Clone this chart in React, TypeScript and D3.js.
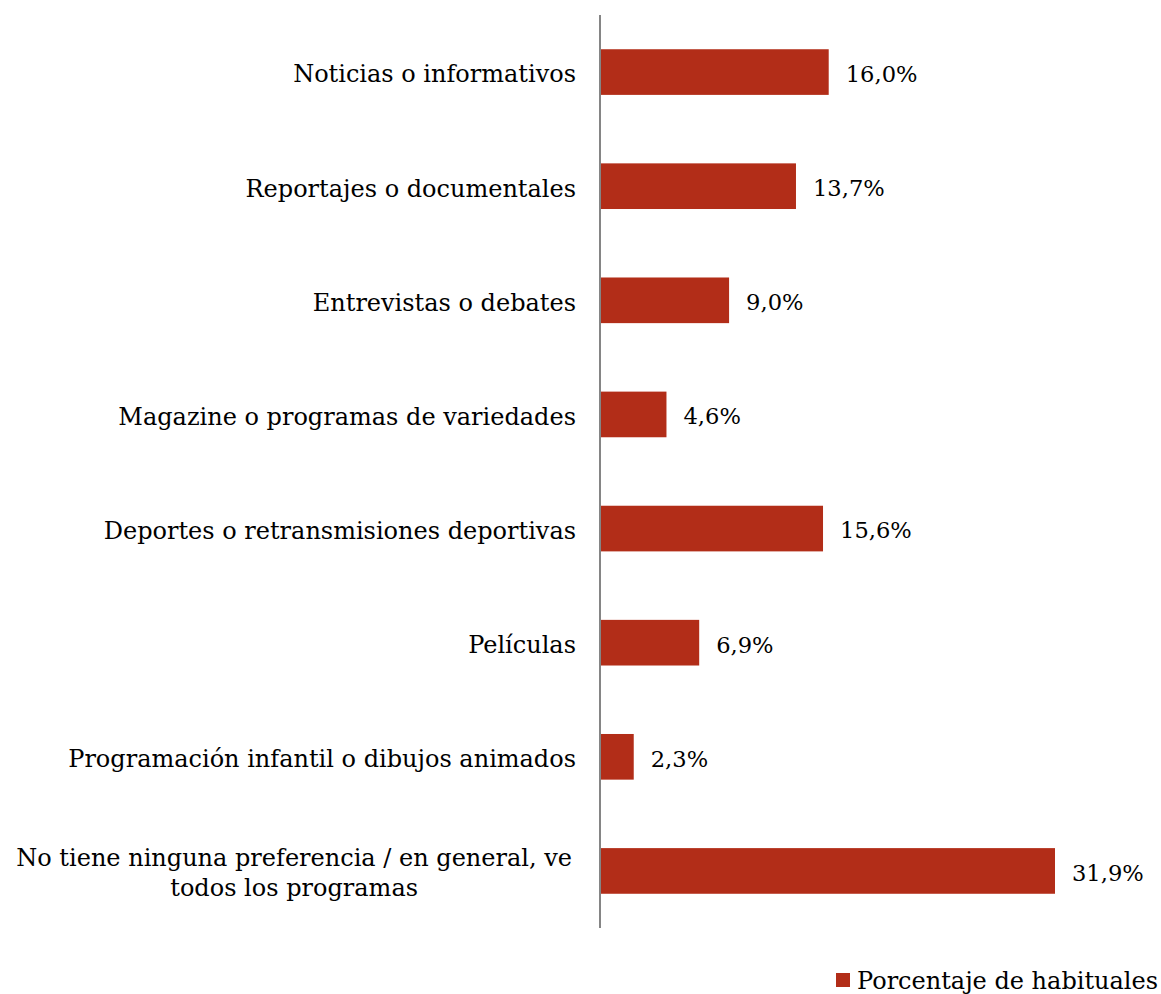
import React, { useEffect, useRef } from "react";
import * as d3 from "d3";

const categories: string[][] = [
  ["Noticias o informativos"],
  ["Reportajes o documentales"],
  ["Entrevistas o debates"],
  ["Magazine o programas de variedades"],
  ["Deportes o retransmisiones deportivas"],
  ["Películas"],
  ["Programación infantil o dibujos animados"],
  ["No tiene ninguna preferencia / en general, ve", "todos los programas"],
];
const values: number[] = [16.0, 13.7, 9.0, 4.6, 15.6, 6.9, 2.3, 31.9];
const seriesName = "Porcentaje de habituales";

const W = 1161;
const H = 994;
const FONT = "'DejaVu Serif', serif";
const FS = 24;
const FS_VAL = 22.6;
const BAR = "#B22D18";

export default function App() {
  const ref = useRef<SVGSVGElement | null>(null);
  useEffect(() => {
    const svg = d3.select(ref.current);
    svg.selectAll("*").remove();
    const idx = categories.map((_, i) => String(i));
    const y = d3.scaleBand<string>().domain(idx).range([15, 928]).paddingInner(0.6).paddingOuter(0.3);
    const x = d3.scaleLinear().domain([0, 31.9]).range([601, 1055]);

    const g = svg.append("g");
    g.selectAll("rect.bar")
      .data(values)
      .join("rect")
      .attr("class", "bar")
      .attr("x", x(0))
      .attr("y", (_, i) => y(String(i))!)
      .attr("width", (d) => x(d) - x(0))
      .attr("height", y.bandwidth())
      .attr("fill", BAR);

    g.append("line")
      .attr("x1", 600).attr("x2", 600)
      .attr("y1", 15).attr("y2", 928)
      .attr("stroke", "#858585").attr("stroke-width", 2);

    g.selectAll("text.val")
      .data(values)
      .join("text")
      .attr("class", "val")
      .attr("x", (d) => x(d) + 17)
      .attr("y", (_, i) => y(String(i))! + y.bandwidth() / 2 + 2)
      .attr("dy", "0.35em")
      .attr("font-family", FONT)
      .attr("font-size", FS_VAL)
      .attr("fill", "#000")
      .text((d) => d.toFixed(1).replace(".", ",") + "%");

    const labelRight = 576;
    categories.forEach((lines, i) => {
      const cy = y(String(i))! + y.bandwidth() / 2 + 2;
      const lh = 30;
      const t = g.append("text")
        .attr("font-family", FONT)
        .attr("font-size", FS)
        .attr("fill", "#000");
      const spans = lines.map((l, k) =>
        t.append("tspan")
          .attr("y", cy + (k - (lines.length - 1) / 2) * lh)
          .attr("dy", "0.35em")
          .text(l)
      );
      if (lines.length === 1) {
        t.attr("text-anchor", "end");
        spans[0].attr("x", labelRight);
      } else {
        const widths = spans.map((s) => (s.node() as SVGTSpanElement).getComputedTextLength());
        const maxW = Math.max(...widths);
        const cx = labelRight - 4 - maxW / 2;
        t.attr("text-anchor", "middle");
        spans.forEach((s) => s.attr("x", cx));
      }
    });

    const lg = svg.append("g");
    lg.append("text")
      .attr("x", 857)
      .attr("y", 981)
      .attr("dy", "0.35em")
      .attr("font-family", FONT)
      .attr("font-size", 24)
      .attr("fill", "#000")
      .text(seriesName);
    lg.append("rect")
      .attr("x", 836).attr("y", 973)
      .attr("width", 14).attr("height", 14)
      .attr("fill", BAR);
  }, []);

  return (
    <svg
      ref={ref}
      width={W}
      height={H}
      style={{ position: "absolute", left: 0, top: 0, background: "#fff" }}
    />
  );
}
